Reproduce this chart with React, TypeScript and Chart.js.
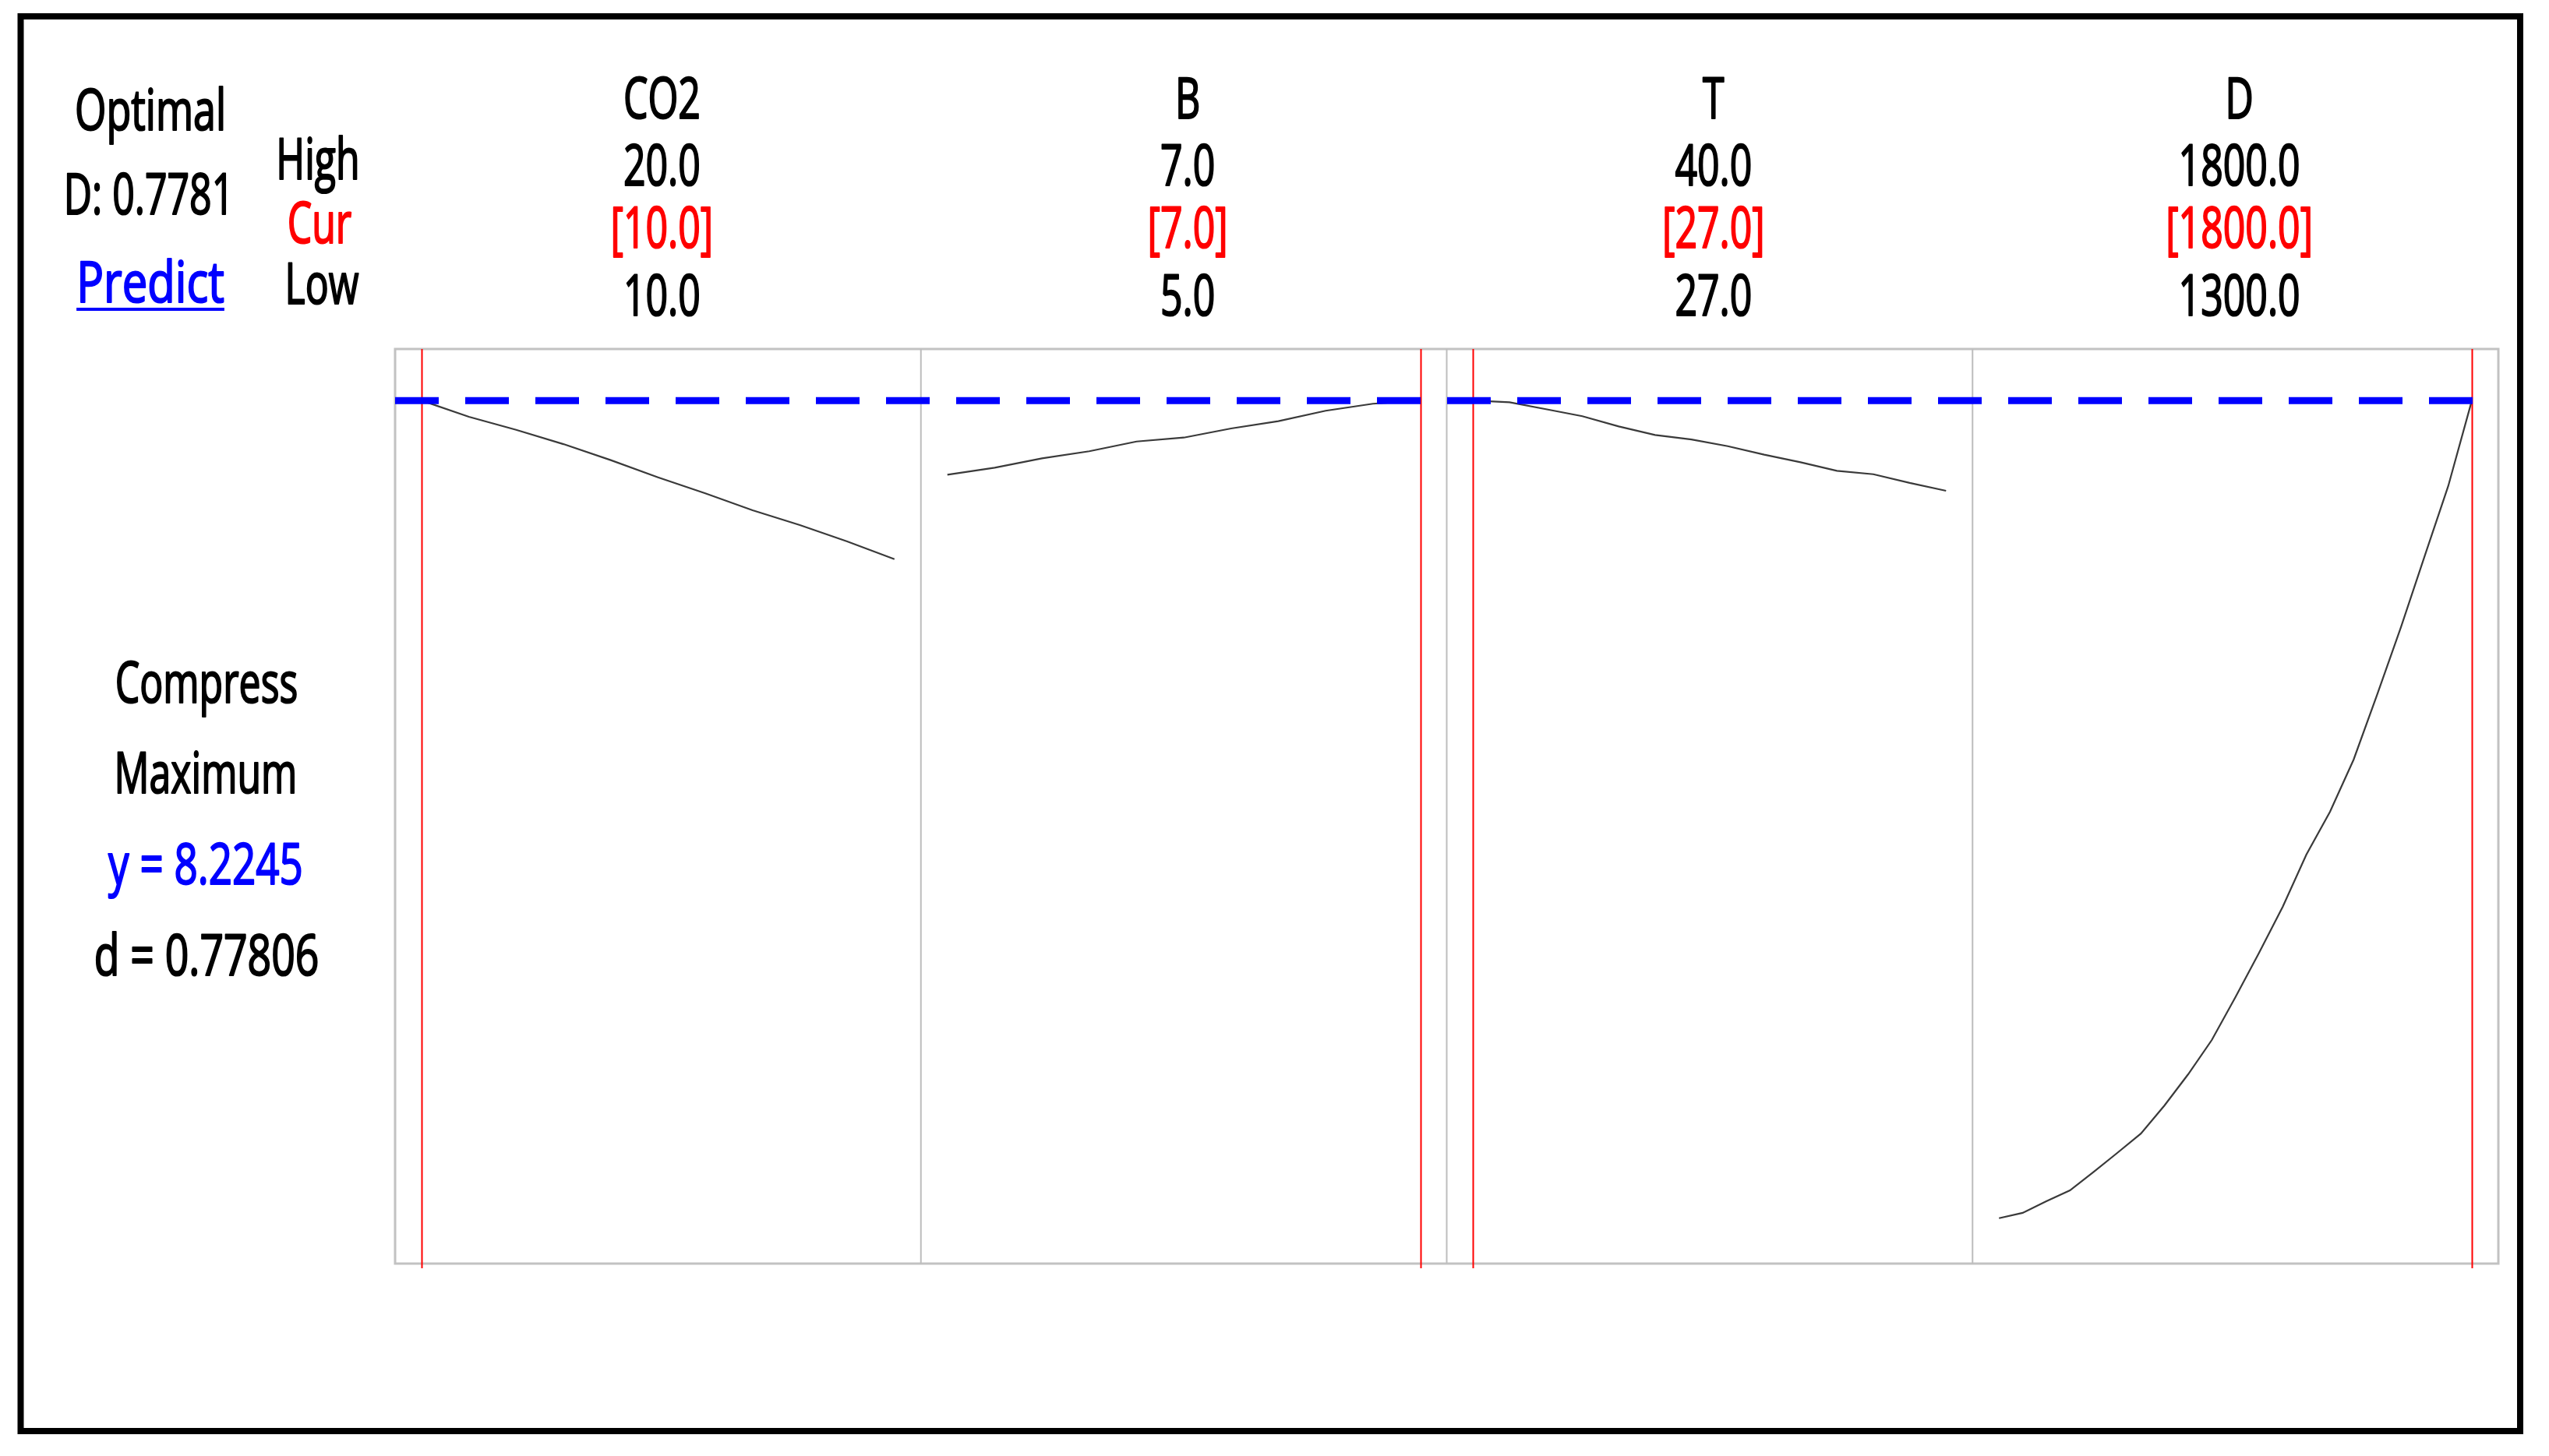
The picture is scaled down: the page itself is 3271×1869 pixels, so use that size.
import React, { useEffect, useRef } from "react";
import { Chart, registerables } from "chart.js";

Chart.register(...registerables);

// ---------------- data ----------------
const factorNames = ["CO2", "B", "T", "D"];
const highValues = [20.0, 7.0, 40.0, 1800.0];
const lowValues = [10.0, 5.0, 27.0, 1300.0];
const currentValues = [10.0, 7.0, 27.0, 1800.0];
const highLabels = ["20.0", "7.0", "40.0", "1800.0"];
const curLabels = ["[10.0]", "[7.0]", "[27.0]", "[1800.0]"];
const lowLabels = ["10.0", "5.0", "27.0", "1300.0"];

const co2X = [10, 11, 12, 13, 14, 15, 16, 17, 18, 19, 20];
const co2Y = [8.2245, 8.1, 8.0, 7.89, 7.767, 7.635, 7.512, 7.382, 7.269, 7.143, 7.007];

const bX = [5.0, 5.2, 5.4, 5.6, 5.8, 6.0, 6.2, 6.4, 6.6, 6.8, 7.0];
const bY = [7.655, 7.709, 7.781, 7.835, 7.91, 7.94, 8.01, 8.066, 8.146, 8.2, 8.2245];

const tX = [27, 28, 29, 30, 31, 32, 33, 34, 35, 36, 37, 38, 39, 40];
const tY = [8.2245, 8.211, 8.158, 8.104, 8.026, 7.96, 7.926, 7.874, 7.809, 7.751, 7.685, 7.659, 7.592, 7.532];

const dX = [1300, 1325, 1350, 1375, 1400, 1425, 1450, 1475, 1500, 1525, 1550, 1575, 1600, 1625, 1650, 1675, 1700, 1725, 1750, 1775, 1800];
const dY = [1.948, 1.989, 2.078, 2.162, 2.303, 2.449, 2.598, 2.814, 3.053, 3.316, 3.645, 3.986, 4.339, 4.739, 5.068, 5.469, 5.971, 6.485, 7.029, 7.568, 8.2245];

const responseName = "Compress";
const goalLabel = "Maximum";
const predictedY = 8.2245;
const desirability = 0.77806;
const compositeD = 0.7781;
const yAxisMin = 1.6;
const yAxisMax = 8.62;

// ---------------- styling ----------------
const W = 3271;
const H = 1869;
const PAD = 0.056;
const SY = 1.46;
const FONT = '"Open Sans", "Noto Sans", sans-serif';
const FS = 50;

function drawLabel(
  ctx: CanvasRenderingContext2D,
  text: string,
  x: number,
  y: number,
  color: string,
  sx: number = 1
) {
  ctx.save();
  ctx.translate(x, y);
  ctx.scale(sx, SY);
  ctx.font = `${FS}px ${FONT}`;
  ctx.fillStyle = color;
  ctx.strokeStyle = color;
  ctx.lineWidth = 1.5;
  ctx.lineJoin = "round";
  ctx.textAlign = "center";
  ctx.textBaseline = "alphabetic";
  ctx.fillText(text, 0, 0);
  ctx.strokeText(text, 0, 0);
  ctx.restore();
}

const profilerPlugin = {
  id: "profiler",
  beforeDraw(chart: any) {
    const { ctx } = chart;
    ctx.save();
    ctx.fillStyle = "#ffffff";
    ctx.fillRect(0, 0, chart.width, chart.height);
    // outer frame
    ctx.strokeStyle = "#000000";
    ctx.lineWidth = 8;
    ctx.strokeRect(26.5, 21, 3207.5, 1816);
    ctx.restore();
  },
  beforeDatasetsDraw(chart: any) {
    const { ctx, chartArea: a } = chart;
    ctx.save();
    ctx.strokeStyle = "#c2c2c2";
    ctx.lineWidth = 3;
    ctx.strokeRect(a.left, a.top, a.right - a.left, a.bottom - a.top);
    ctx.lineWidth = 2;
    ctx.strokeStyle = "#bdbdbd";
    for (let i = 1; i < factorNames.length; i++) {
      const s = chart.scales["x" + i];
      ctx.beginPath();
      ctx.moveTo(s.left, a.top);
      ctx.lineTo(s.left, a.bottom);
      ctx.stroke();
    }
    ctx.restore();
  },
  afterDatasetsDraw(chart: any) {
    const { ctx, chartArea: a } = chart;
    ctx.save();
    // current-setting red lines
    ctx.strokeStyle = "#ff0000";
    ctx.lineWidth = 2;
    factorNames.forEach((_, i) => {
      const s = chart.scales["x" + i];
      const px = Math.round(s.getPixelForValue(currentValues[i])) + 0.5;
      ctx.beginPath();
      ctx.moveTo(px, a.top);
      ctx.lineTo(px, a.bottom + 6);
      ctx.stroke();
    });
    // predicted response dashed line
    const py = chart.scales.y.getPixelForValue(predictedY);
    ctx.strokeStyle = "#0000ff";
    ctx.lineWidth = 9;
    ctx.setLineDash([56, 34]);
    ctx.beginPath();
    ctx.moveTo(a.left, py);
    ctx.lineTo(a.right, py);
    ctx.stroke();
    ctx.setLineDash([]);
    ctx.restore();

    // header texts
    factorNames.forEach((name, i) => {
      const s = chart.scales["x" + i];
      const cx = (s.left + s.right) / 2 + 5;
      drawLabel(ctx, name, cx, 152, "#000000");
      drawLabel(ctx, highLabels[i], cx, 238, "#000000");
      drawLabel(ctx, curLabels[i], cx, 318, "#ff0000");
      drawLabel(ctx, lowLabels[i], cx, 405, "#000000");
    });
    drawLabel(ctx, "Optimal", 193, 167, "#000000", 1.04);
    drawLabel(ctx, "D: " + compositeD.toFixed(4), 191, 275, "#000000");
    drawLabel(ctx, "Predict", 193, 388, "#0000ff", 1.16);
    ctx.save();
    ctx.font = `${FS}px ${FONT}`;
    const pw = ctx.measureText("Predict").width * 1.16;
    ctx.fillStyle = "#0000ff";
    ctx.fillRect(193 - pw / 2, 395, pw, 4);
    ctx.restore();
    drawLabel(ctx, "High", 408, 230, "#000000");
    drawLabel(ctx, "Cur", 410, 312, "#ff0000");
    drawLabel(ctx, "Low", 413, 390, "#000000");

    drawLabel(ctx, responseName, 265, 902, "#000000");
    drawLabel(ctx, goalLabel, 264, 1018, "#000000");
    drawLabel(ctx, "y = " + predictedY.toFixed(4), 264, 1135, "#0000ff", 1.06);
    drawLabel(ctx, "d = " + desirability.toFixed(5), 265, 1252, "#000000", 1.07);
  },
};

export default function App() {
  const canvasRef = useRef<HTMLCanvasElement | null>(null);

  useEffect(() => {
    document.body.style.overflow = "hidden";
    const canvas = canvasRef.current;
    if (!canvas) return;

    const curves = [
      [co2X, co2Y],
      [bX, bY],
      [tX, tY],
      [dX, dY],
    ];

    const scales: any = {
      y: { type: "linear", axis: "y", min: yAxisMin, max: yAxisMax, display: false },
    };
    factorNames.forEach((_, i) => {
      const span = highValues[i] - lowValues[i];
      scales["x" + i] = {
        type: "linear",
        axis: "x",
        position: "bottom",
        stack: "panels",
        stackWeight: 1,
        min: lowValues[i] - PAD * span,
        max: highValues[i] + PAD * span,
        display: true,
        grid: { display: false, drawTicks: false },
        border: { display: false },
        ticks: { display: false },
        title: { display: false },
      };
    });

    const datasets = curves.map(([xs, ys], i) => ({
      label: factorNames[i],
      xAxisID: "x" + i,
      yAxisID: "y",
      data: xs.map((x, j) => ({ x, y: ys[j] })),
      borderColor: "#3a3a3a",
      borderWidth: 2.2,
      pointRadius: 0,
      fill: false,
      tension: 0,
    }));

    const chart = new Chart(canvas, {
      type: "line",
      data: { datasets },
      options: {
        responsive: false,
        maintainAspectRatio: false,
        animation: false,
        devicePixelRatio: 1,
        layout: { padding: { left: 507, right: 65, top: 448, bottom: 247 } },
        scales,
        plugins: {
          legend: { display: false },
          tooltip: { enabled: false },
          title: { display: false },
        },
        events: [],
      },
      plugins: [profilerPlugin],
    } as any);

    return () => chart.destroy();
  }, []);

  return (
    <div style={{ position: "absolute", left: 0, top: 0, width: W, height: H, background: "#ffffff" }}>
      <canvas ref={canvasRef} width={W} height={H} style={{ width: W, height: H, display: "block" }} />
    </div>
  );
}
